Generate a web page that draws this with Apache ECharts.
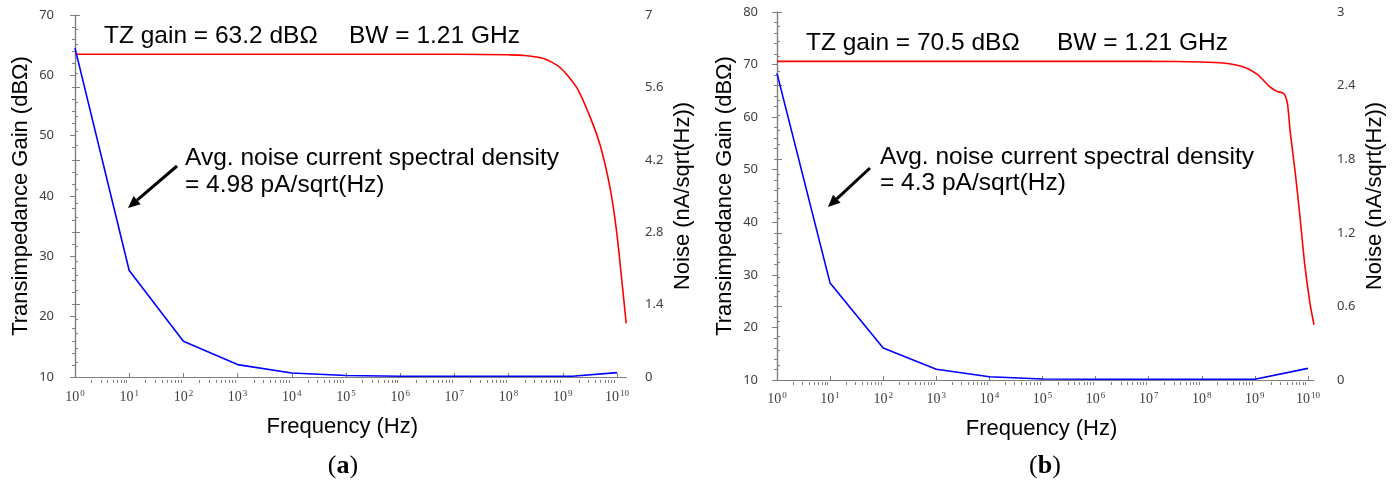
<!DOCTYPE html>
<html>
<head>
<meta charset="utf-8">
<script src="https://cdn.jsdelivr.net/npm/echarts@6/dist/echarts.min.js"></script>
<style>
  html, body { margin: 0; padding: 0; background: #fff; }
  #chart { width: 1395px; height: 480px; }
</style>
</head>
<body>
<div id="chart"></div>
<script>
// panel (a)
const gainFreqA = [1, 10, 100, 1e3, 1e4, 1e5, 1e6, 1e7, 1e8, 2e8, 4.4e8, 8.9e8, 1.8e9, 3.16e9, 4.9e9, 7.4e9, 9.8e9, 1.23e10, 1.48e10];
const gainA = [63.5, 63.5, 63.5, 63.5, 63.5, 63.5, 63.5, 63.5, 63.4, 63.3, 62.8, 61.3, 58.0, 53.2, 48.4, 41.5, 34.3, 26.0, 18.9];
const noiseFreqA = [1, 10, 100, 1e3, 1e4, 1e5, 1e6, 1e7, 1e8, 1e9, 1.5e9, 1e10];
const noiseA = [6.36, 2.06, 0.69, 0.24, 0.077, 0.03, 0.015, 0.015, 0.015, 0.015, 0.015, 0.085];

// panel (b)
const gainFreqB = [1, 10, 100, 1e3, 1e4, 1e5, 1e6, 1e7, 1e8, 2.5e8, 6e8, 1.1e9, 1.9e9, 2.6e9, 3.5e9, 4.1e9, 4.6e9, 5.8e9, 7.1e9, 8.7e9, 1.1e10, 1.3e10];
const gainB = [70.6, 70.6, 70.6, 70.6, 70.6, 70.6, 70.6, 70.6, 70.5, 70.3, 69.6, 68.2, 65.8, 64.9, 64.5, 62.6, 57.5, 49.2, 40.9, 32.0, 24.4, 20.5];
const noiseFreqB = [1, 10, 100, 1e3, 1e4, 1e5, 1e6, 1e7, 1e8, 1e9, 1e10];
const noiseB = [2.5, 0.79, 0.26, 0.088, 0.027, 0.008, 0.006, 0.006, 0.006, 0.006, 0.095];

// decade exponents for the frequency axis
const decades = [0, 1, 2, 3, 4, 5, 6, 7, 8, 9, 10];

const chart = echarts.init(document.getElementById('chart'));

const axisGray = '#7f7f7f';
const labelGray = '#404040';
const sans = 'Liberation Sans';

function pairs(freq, vals) {
  return freq.map((f, i) => [Math.log10(f), vals[i]]);
}

function minorValues(max) {
  const out = [];
  decades.forEach(n => {
    for (let k = 2; k <= 9; k++) {
      const v = n + Math.log10(k);
      if (v <= max) out.push(v);
    }
  });
  return out;
}

function freqAxis(grid, max, offset, shift) {
  return {
    type: 'value', gridIndex: grid, position: 'bottom', min: 0, max: max, offset: offset,
    splitLine: { show: false },
    axisLine: { lineStyle: { color: axisGray, width: 1.2 } },
    axisTick: { customValues: decades, inside: true, length: 4, lineStyle: { color: axisGray } },
    axisLabel: {
      customValues: decades, margin: 6,
      formatter: v => '{b|10}{s|' + Math.round(v) + '}',
      rich: {
        b: { fontFamily: 'Liberation Serif', fontSize: 14, color: labelGray, lineHeight: 16 },
        s: { fontFamily: 'Liberation Serif', fontSize: 9, color: labelGray, lineHeight: 16, verticalAlign: 'top', padding: [0, 0, 6, 1] }
      }
    },
    name: 'Frequency (Hz)', nameLocation: 'middle', nameGap: 33,
    nameTextStyle: { fontFamily: sans, fontSize: 22, color: '#000', padding: [0, shift, 0, 0] }
  };
}

function minorAxis(grid, max, offset) {
  return {
    type: 'value', gridIndex: grid, position: 'bottom', min: 0, max: max, offset: offset,
    splitLine: { show: false },
    axisLine: { show: false },
    axisTick: { customValues: minorValues(max), inside: true, length: 3, lineStyle: { color: axisGray } },
    axisLabel: { show: false }
  };
}

function valAxis(grid, pos, min, max, interval, offset, margin, name, gap) {
  return {
    type: 'value', gridIndex: grid, position: pos, min: min, max: max, interval: interval, offset: offset,
    splitLine: { show: false },
    axisLine: { show: true, lineStyle: { color: axisGray, width: 1.2 } },
    axisTick: { show: true, length: 5, lineStyle: { color: axisGray } },
    minorTick: { show: true, splitNumber: 5, length: 3, lineStyle: { color: axisGray } },
    axisLabel: { fontFamily: 'Noto Sans', fontSize: 13, color: labelGray, margin: margin },
    name: name, nameLocation: 'middle', nameRotate: 90, nameGap: gap,
    nameTextStyle: { fontFamily: sans, fontSize: 22, color: '#000' }
  };
}

function arrow(x1, y1, x2, y2) {
  const dx = x2 - x1, dy = y2 - y1, len = Math.hypot(dx, dy);
  const ux = dx / len, uy = dy / len, hl = 12, hw = 5.5;
  const bx = x2 - ux * hl, by = y2 - uy * hl;
  return [
    { type: 'line', shape: { x1: x1, y1: y1, x2: bx, y2: by }, style: { stroke: '#000', lineWidth: 3 } },
    { type: 'polygon', shape: { points: [[x2, y2], [bx - uy * hw, by + ux * hw], [bx + uy * hw, by - ux * hw]] }, style: { fill: '#000' } }
  ];
}

function label(text, x, y, size) {
  return {
    type: 'text',
    style: { text: text, x: x, y: y, align: 'left', verticalAlign: 'middle', fontFamily: sans, fontSize: size, fill: '#000' }
  };
}

function panelTag(letter, x, y) {
  return {
    type: 'text',
    style: {
      text: '({b|' + letter + '})', x: x, y: y, align: 'center', verticalAlign: 'middle',
      fontFamily: 'Liberation Serif', fontSize: 26, fill: '#000',
      rich: { b: { fontFamily: 'Liberation Serif', fontSize: 26, fontWeight: 'bold', fill: '#000' } }
    }
  };
}

const maxA = Math.log10(1.5e10);
const maxB = Math.log10(1.3e10);

const option = {
  animation: false,
  grid: [
    { left: 75, top: 15, width: 551.5, height: 362 },
    { left: 777, top: 12, width: 537, height: 368 }
  ],
  xAxis: [
    freqAxis(0, maxA, 6, 17),
    minorAxis(0, maxA, 6),
    freqAxis(1, maxB, 5, 8),
    minorAxis(1, maxB, 5)
  ],
  yAxis: [
    valAxis(0, 'left', 10, 70, 10, 7, 14, 'Transimpedance Gain (dB\u03A9)', 36),
    valAxis(0, 'right', 0, 7, 1.4, 5.5, 13, 'Noise (nA/sqrt(Hz))', 40),
    valAxis(1, 'left', 10, 80, 10, 9, 10, 'Transimpedance Gain (dB\u03A9)', 32),
    valAxis(1, 'right', 0, 3, 0.6, 7, 16, 'Noise (nA/sqrt(Hz))', 43)
  ],
  series: [
    { type: 'line', xAxisIndex: 0, yAxisIndex: 0, data: pairs(gainFreqA, gainA), showSymbol: false, smooth: 0.25, lineStyle: { color: '#ff0000', width: 1.6 } },
    { type: 'line', xAxisIndex: 0, yAxisIndex: 1, data: pairs(noiseFreqA, noiseA), showSymbol: false, lineStyle: { color: '#0000ff', width: 1.6 } },
    { type: 'line', xAxisIndex: 2, yAxisIndex: 2, data: pairs(gainFreqB, gainB), showSymbol: false, smooth: 0.25, lineStyle: { color: '#ff0000', width: 1.6 } },
    { type: 'line', xAxisIndex: 2, yAxisIndex: 3, data: pairs(noiseFreqB, noiseB), showSymbol: false, lineStyle: { color: '#0000ff', width: 1.6 } }
  ],
  graphic: [
    label('TZ gain = 63.2 dB\u03A9', 104, 36, 24.5),
    label('BW = 1.21 GHz', 349, 36, 24.5),
    label('Avg. noise current spectral density', 185, 158, 24.5),
    label('= 4.98 pA/sqrt(Hz)', 185, 185, 24.5),
    label('TZ gain = 70.5 dB\u03A9', 806, 43, 24.5),
    label('BW = 1.21 GHz', 1057, 43, 24.5),
    label('Avg. noise current spectral density', 880, 157, 24.5),
    label('= 4.3 pA/sqrt(Hz)', 880, 183, 24.5),
    ...arrow(177, 166, 128, 208),
    ...arrow(870, 168, 828, 207),
    panelTag('a', 343, 466),
    panelTag('b', 1045, 466)
  ]
};

chart.setOption(option);
</script>
</body>
</html>
